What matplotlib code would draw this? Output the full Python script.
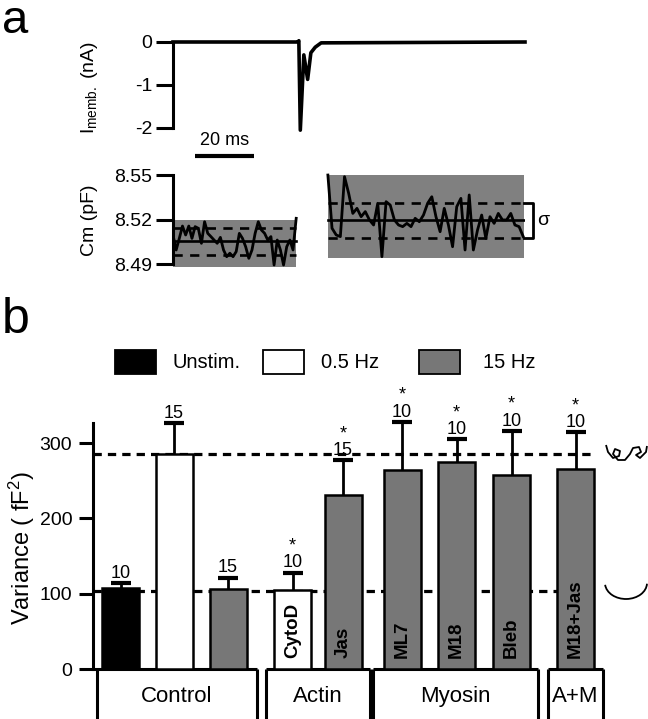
import matplotlib
matplotlib.use("Agg")
import matplotlib.pyplot as plt
import numpy as np
from matplotlib.patches import Rectangle, Arc, PathPatch
from matplotlib.path import Path
from matplotlib.transforms import Affine2D

plt.rcParams['font.family'] = ['Liberation Sans', 'DejaVu Sans']
plt.rcParams['mathtext.fontset'] = 'custom'
plt.rcParams['mathtext.rm'] = 'Liberation Sans'
plt.rcParams['mathtext.it'] = 'Liberation Sans:italic'
plt.rcParams['mathtext.bf'] = 'Liberation Sans:bold'
plt.rcParams['axes.unicode_minus'] = False

W, H = 648, 719
GRAY = '#777777'

### data, panel a
# membrane current trace (ms, nA)
i_time = [0, 42.6, 42.9, 43.4, 44.6, 45.9, 47.0, 48.5, 50.5, 120]
i_curr = [0, 0, 0.03, -2.05, -0.30, -0.87, -0.25, -0.12, -0.02, 0]

# capacitance samples before / after the train (pF)
cm_before = [8.5097, 8.4996, 8.5074, 8.5157, 8.5097, 8.5157, 8.5074, 8.5153, 8.5142, 8.5041,
             8.5186, 8.5108, 8.5086, 8.5063, 8.5041, 8.5081, 8.4996, 8.4951, 8.4974, 8.4951,
             8.4985, 8.5108, 8.5074, 8.5018, 8.4940, 8.4996, 8.5108, 8.5186, 8.5130, 8.5108,
             8.5063, 8.5086, 8.4895, 8.5063, 8.4996, 8.4895, 8.5018, 8.5063, 8.4996, 8.5209]
cm_after = [8.5500, 8.5142, 8.5097, 8.5086, 8.5489, 8.5377, 8.5242, 8.5276, 8.5220, 8.5254,
            8.5198, 8.5164, 8.5310, 8.4951, 8.5321, 8.5298, 8.5198, 8.5164, 8.5153, 8.5175,
            8.5153, 8.5209, 8.5186, 8.5231, 8.5310, 8.5354, 8.5220, 8.5119, 8.5276, 8.5164,
            8.5018, 8.5287, 8.5343, 8.4996, 8.5366, 8.4996, 8.5130, 8.5231, 8.5074, 8.5220,
            8.5175, 8.5242, 8.5198, 8.5198, 8.5242, 8.5164, 8.5153, 8.5086]
cm_before_mean, cm_before_sd = 8.5055, 0.0092
cm_after_mean, cm_after_sd = 8.5197, 0.0118

### data, panel b
conditions = ["Unstim.", "0.5 Hz", "15 Hz", "CytoD", "Jas", "ML7", "M18", "Bleb", "M18+Jas"]
variance = [107, 286, 106, 105, 231, 264, 275, 257, 266]
variance_err = [7, 40, 15, 23, 46, 64, 30, 59, 48]
n_cells = [10, 15, 15, 10, 15, 10, 10, 10, 10]
significant = [False, False, False, True, True, True, True, True, True]
bar_labels = ["", "", "", "CytoD", "Jas", "ML7", "M18", "Bleb", "M18+Jas"]
bar_colors = ['black', 'white', GRAY, 'white', GRAY, GRAY, GRAY, GRAY, GRAY]
groups = ["Control", "Actin", "Myosin", "A+M"]
ref_unstim = 103
ref_05hz = 286

### layout helpers (pixel coords, origin top-left)
pix = Affine2D().scale(1, -1).translate(0, H)

def rect(left, top, right, bottom):
    return [left / W, 1 - bottom / H, (right - left) / W, (bottom - top) / H]

fig = plt.figure(figsize=(W / 100, H / 100), dpi=100)

### panel a: current
ax_i = fig.add_axes(rect(173, 33.4, 525, 136.6))
ax_i.plot(i_time, i_curr, color='black', lw=2.6, solid_joinstyle='round', clip_on=False)
ax_i.set_xlim(0, 120)
ax_i.set_ylim(-2.2, 0.2)
for s in ['top', 'right', 'bottom']:
    ax_i.spines[s].set_visible(False)
ax_i.spines['left'].set_bounds(-2, 0)
ax_i.spines['left'].set_linewidth(2.2)
ax_i.set_xticks([])
ax_i.set_yticks([0, -1, -2])
ax_i.set_yticklabels(["0", "-1", "-2"])
ax_i.tick_params(axis='y', length=12, width=2.2, labelsize=14, pad=3)
# scale bar
ax_i.plot([7.5, 27.5], [-2.65, -2.65], color='black', lw=3, clip_on=False, solid_capstyle='butt')
ax_i.text(17.5, -2.3, "20 ms", ha='center', va='center', fontsize=13)
fig.text(89 / W, 1 - 87 / H, r"I$_{\mathrm{memb.}}$ (nA)", rotation=90, ha='center', va='center', fontsize=14)

### panel a: capacitance
ax_c = fig.add_axes(rect(173, 167.6, 525, 271.7))
ax_c.set_xlim(0, 120)
ax_c.set_ylim(8.485, 8.555)
ax_c.add_patch(Rectangle((0, 8.488), 42, 8.52 - 8.488, color='#808080', lw=0, zorder=0))
ax_c.add_patch(Rectangle((52.8, 8.494), 66.9, 8.55 - 8.494, color='#808080', lw=0, zorder=0))
t_before = np.linspace(0, 42, len(cm_before))
t_after = np.linspace(52.8, 119.4, len(cm_after))
ax_c.plot(t_before, cm_before, color='black', lw=2.0, zorder=3)
ax_c.plot(t_after, cm_after, color='black', lw=2.0, zorder=3)
for (x0, x1, m, sd) in [(0, 42, cm_before_mean, cm_before_sd), (52.8, 119.7, cm_after_mean, cm_after_sd)]:
    ax_c.plot([x0, x1 + (1.3 if x0 > 0 else 0)], [m, m], color='black', lw=1.9, zorder=2)
    ax_c.plot([x0, x1], [m + sd, m + sd], color='black', lw=1.9, ls=(0, (3.5, 2.8)), zorder=2)
    ax_c.plot([x0, x1], [m - sd, m - sd], color='black', lw=1.9, ls=(0, (3.5, 2.8)), zorder=2)
# sigma bracket
m, sd = cm_after_mean, cm_after_sd
ax_c.plot([119.7, 122.7, 122.7, 119.7], [m + sd, m + sd, m - sd, m - sd], color='black', lw=2, clip_on=False)
ax_c.text(124, m, "σ", ha='left', va='center', fontsize=14)
for s in ['top', 'right', 'bottom']:
    ax_c.spines[s].set_visible(False)
ax_c.spines['left'].set_bounds(8.49, 8.55)
ax_c.spines['left'].set_linewidth(2.2)
ax_c.set_xticks([])
ax_c.set_yticks([8.49, 8.52, 8.55])
ax_c.set_yticklabels(["8.49", "8.52", "8.55"])
ax_c.tick_params(axis='y', length=12, width=2.2, labelsize=14, pad=3)
fig.text(89 / W, 1 - 220 / H, "Cm (pF)", rotation=90, ha='center', va='center', fontsize=14)

### panel b
ax_b = fig.add_axes(rect(93, 400, 648, 669))
ax_b.set_xlim(93, 648)
ax_b.set_ylim(0, 357.1)
centers = [120.5, 174, 228, 292.5, 343, 402, 456.5, 511.5, 575.5]

ax_b.plot([93, 592], [ref_05hz, ref_05hz], color='black', lw=2.3, ls=(0, (2.6, 1.9)), zorder=1)
ax_b.plot([93, 575], [ref_unstim, ref_unstim], color='black', lw=2.3, ls=(0, (2.6, 1.9)), zorder=1)

ax_b.bar(centers, variance, width=37, color=bar_colors, edgecolor='black', lw=1.8, zorder=3)
# upper error only, single cap on top
tops = [v + e for v, e in zip(variance, variance_err)]
ax_b.vlines(centers, variance, tops, color='black', lw=2, zorder=4)
ax_b.hlines(tops, [c - 10 for c in centers], [c + 10 for c in centers], color='black', lw=3, zorder=4)

for xc, top, n, sig, lab in zip(centers, tops, n_cells, significant, bar_labels):
    ax_b.annotate(str(n), (xc, top), xytext=(0, 1), textcoords='offset points',
                  ha='center', va='bottom', fontsize=13)
    if sig:
        ax_b.annotate("*", (xc, top), xytext=(0, 13), textcoords='offset points',
                      ha='center', va='bottom', fontsize=13)
    if lab:
        ax_b.text(xc, 14, lab, rotation=90, ha='center', va='bottom', fontsize=13.5, fontweight='bold', zorder=5)

for s in ['top', 'right', 'bottom']:
    ax_b.spines[s].set_visible(False)
ax_b.spines['left'].set_bounds(0, 327)
ax_b.spines['left'].set_linewidth(2.2)
ax_b.set_xticks([])
ax_b.set_yticks([0, 100, 200, 300])
ax_b.tick_params(axis='y', length=10, width=2.2, labelsize=14, pad=5)

# group boxes below the axis
box_edges = [(97, 257), (266, 370), (373, 538), (548, 603)]
y_low = -66.5
for (x0, x1), g in zip(box_edges, groups):
    left_top = 93 if x0 == 97 else x0
    ax_b.plot([left_top, x1], [0, 0], color='black', lw=2.2, clip_on=False, solid_capstyle='butt')
    ax_b.plot([x0, x0], [0, y_low], color='black', lw=2.2, clip_on=False, solid_capstyle='butt')
    ax_b.plot([x1, x1], [0, y_low], color='black', lw=2.2, clip_on=False, solid_capstyle='butt')
    ax_b.text((x0 + x1) / 2, -37, g, ha='center', va='center', fontsize=16)

fig.text(22 / W, 1 - 548 / H, r"Variance ( fF$^{2}$)", rotation=90, ha='center', va='center', fontsize=17)

# legend
legend_items = [("Unstim.", 'black', 115, 173), ("0.5 Hz", 'white', 263, 321), ("15 Hz", GRAY, 419, 483)]
for lab, col, x_box, x_txt in legend_items:
    fig.add_artist(Rectangle((x_box, 350), 41, 24, facecolor=col, edgecolor='black', lw=1.3, transform=pix))
    fig.text(x_txt / W, 1 - 362 / H, lab, ha='left', va='center', fontsize=14.5)

# panel letters
fig.text(2 / W, 1 - 33 / H, "a", ha='left', va='baseline', fontsize=34)
fig.text(2 / W, 1 - 333 / H, "b", ha='left', va='baseline', fontsize=36)

# side markers
squiggle = [(606, 445), (608, 452), (613, 458), (619, 456), (620, 451), (615, 449), (613, 454),
            (618, 460), (625, 460), (630, 454), (633, 448), (639, 447), (641, 452), (636, 455),
            (640, 458), (646, 452), (647, 446)]
codes = [Path.MOVETO] + [Path.LINETO] * (len(squiggle) - 1)
fig.add_artist(PathPatch(Path(squiggle, codes), fill=False, lw=1.3, edgecolor='black', transform=pix,
                         joinstyle='round'))
fig.add_artist(Arc((626, H - 583), 42, 32, theta1=185, theta2=358, lw=1.3, color='black',
                   transform=Affine2D()))

fig.savefig("out.png", dpi=100)
